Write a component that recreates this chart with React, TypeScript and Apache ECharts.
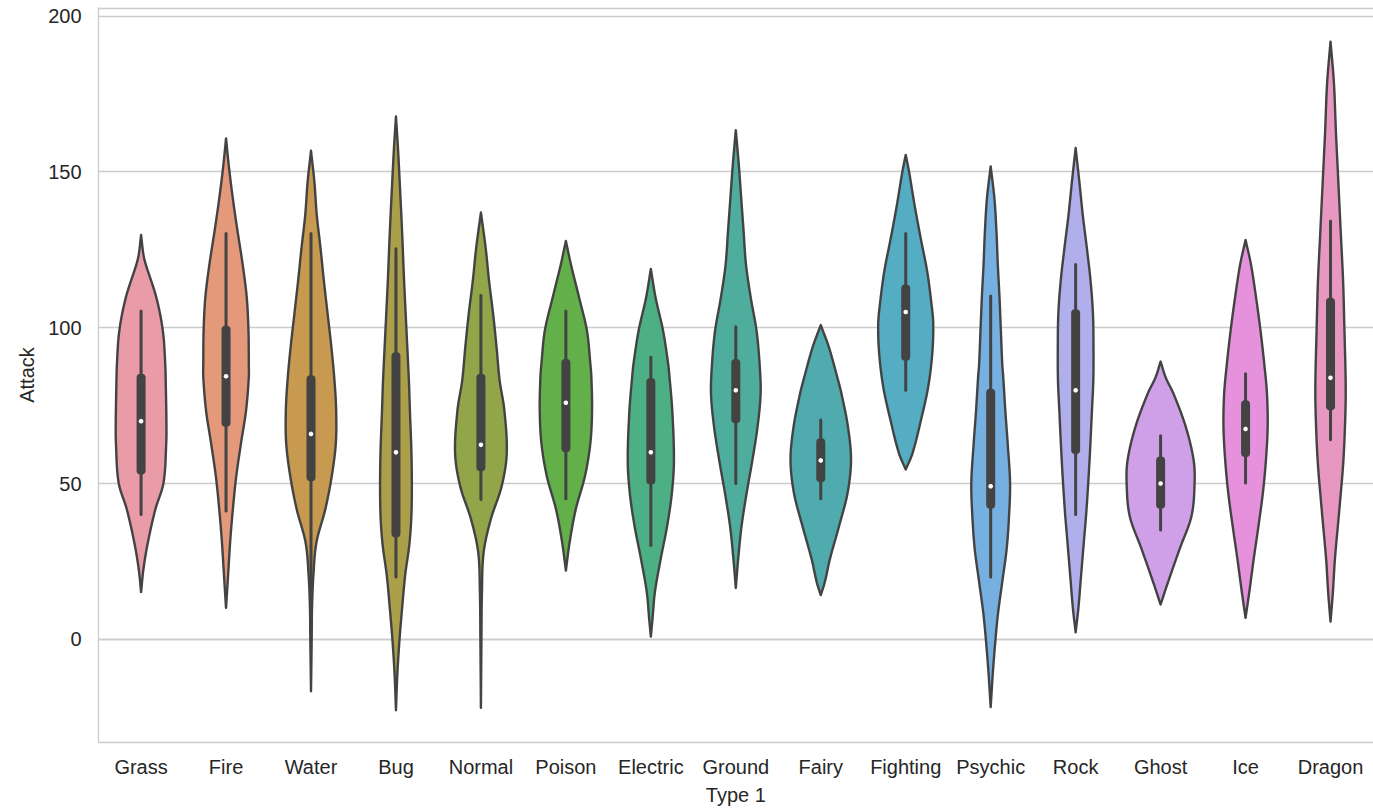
import React, { useEffect, useRef } from "react";
import * as echarts from "echarts";

// Pokémon primary types, in plotting order
const types = [
  "Grass", "Fire", "Water", "Bug", "Normal", "Poison", "Electric", "Ground",
  "Fairy", "Fighting", "Psychic", "Rock", "Ghost", "Ice", "Dragon",
];

// Violin outlines: [Attack, half-width relative to the widest violin]
const grassDensity = [[15.2, 0], [22.6, 0.07], [31.1, 0.2], [41.7, 0.42], [50.2, 0.66], [62.9, 0.74], [70, 0.745], [80, 0.73], [88.4, 0.71], [99, 0.64], [109.6, 0.45], [120.2, 0.14], [123.3, 0.07], [129.7, 0]];
const fireDensity = [[10.1, 0], [20.5, 0.06], [31.1, 0.12], [41.7, 0.2], [52.3, 0.3], [62.9, 0.44], [73.5, 0.59], [84.1, 0.67], [88.4, 0.67], [99, 0.66], [109.6, 0.61], [120.2, 0.49], [130.8, 0.34], [141.4, 0.2], [152, 0.08], [160.7, 0]];
const waterDensity = [[-16.6, 0], [0, 0.02], [9.9, 0.03], [20.5, 0.07], [31.1, 0.16], [41.7, 0.42], [52.3, 0.61], [62.9, 0.73], [73.5, 0.74], [83.1, 0.69], [93.7, 0.6], [104.3, 0.49], [114.9, 0.38], [125.5, 0.28], [136.1, 0.17], [146.7, 0.1], [156.7, 0]];
const bugDensity = [[-22.7, 0], [-11.3, 0.04], [-0.7, 0.1], [9.9, 0.18], [20.5, 0.27], [31.1, 0.4], [41.7, 0.46], [57.6, 0.46], [73.5, 0.41], [83.1, 0.38], [99, 0.31], [114.9, 0.24], [130.8, 0.18], [146.7, 0.11], [157.3, 0.06], [167.7, 0]];
const normalDensity = [[-21.9, 0], [-0.7, 0.015], [15.2, 0.03], [27.9, 0.08], [38.5, 0.29], [49.1, 0.61], [59.7, 0.76], [73.5, 0.69], [83.1, 0.55], [93.7, 0.46], [104.3, 0.36], [114.9, 0.24], [125.5, 0.14], [136.9, 0]];
const poisonDensity = [[22.1, 0], [31.1, 0.11], [41.7, 0.29], [52.3, 0.56], [62.9, 0.72], [73.5, 0.77], [84.1, 0.75], [88.4, 0.72], [99, 0.62], [109.6, 0.39], [120.2, 0.15], [127.8, 0]];
const electricDensity = [[0.9, 0], [6.7, 0.05], [15.2, 0.12], [25.8, 0.29], [36.4, 0.48], [47, 0.62], [57.6, 0.68], [73.5, 0.63], [84.1, 0.55], [88.4, 0.51], [99, 0.36], [109.6, 0.14], [118.8, 0]];
const groundDensity = [[16.5, 0], [25.8, 0.07], [36.4, 0.17], [47, 0.32], [57.6, 0.49], [68.2, 0.64], [78.8, 0.73], [88.4, 0.7], [99, 0.61], [109.6, 0.44], [120.2, 0.3], [130.8, 0.23], [141.4, 0.16], [152, 0.09], [163.3, 0]];
const fairyDensity = [[14.2, 0], [18.4, 0.12], [25.8, 0.27], [36.4, 0.54], [47, 0.79], [57.6, 0.89], [68.2, 0.8], [78.8, 0.61], [83.1, 0.51], [93.7, 0.24], [100.8, 0]];
const fightingDensity = [[54.5, 0], [59.7, 0.2], [70.4, 0.45], [80.9, 0.66], [91.5, 0.78], [101.1, 0.81], [107.4, 0.76], [118.1, 0.63], [128.7, 0.44], [139.3, 0.26], [149.9, 0.1], [155.4, 0]];
const psychicDensity = [[-21.7, 0], [-11.3, 0.06], [-2.8, 0.12], [7.8, 0.21], [18.4, 0.34], [29, 0.47], [39.6, 0.54], [50.2, 0.57], [62.9, 0.5], [73.5, 0.43], [84.1, 0.37], [88.4, 0.34], [99, 0.3], [109.6, 0.26], [120.2, 0.21], [130.8, 0.17], [141.4, 0.11], [151.7, 0]];
const rockDensity = [[2.3, 0], [9.9, 0.08], [20.5, 0.16], [31.1, 0.24], [41.7, 0.32], [57.6, 0.41], [73.5, 0.48], [83.1, 0.52], [93.7, 0.525], [104.3, 0.51], [114.9, 0.44], [125.5, 0.33], [136.1, 0.21], [146.7, 0.11], [157.6, 0]];
const ghostDensity = [[11.2, 0], [18.4, 0.22], [29, 0.56], [39.6, 0.91], [50.2, 1.0], [57.6, 0.97], [68.2, 0.74], [78.8, 0.38], [84, 0.15], [89.1, 0]];
const iceDensity = [[6.9, 0], [15.2, 0.11], [25.8, 0.24], [36.4, 0.38], [47, 0.51], [57.6, 0.6], [68.2, 0.65], [78.8, 0.63], [88.4, 0.55], [99, 0.44], [109.6, 0.31], [120.2, 0.16], [128.1, 0]];
const dragonDensity = [[5.7, 0], [15.2, 0.07], [25.8, 0.13], [41.7, 0.26], [57.6, 0.38], [73.5, 0.44], [83.1, 0.445], [99, 0.41], [114.9, 0.37], [130.8, 0.3], [146.7, 0.23], [162.6, 0.16], [178.5, 0.1], [191.7, 0]];

const densities = [
  grassDensity, fireDensity, waterDensity, bugDensity, normalDensity, poisonDensity,
  electricDensity, groundDensity, fairyDensity, fightingDensity, psychicDensity,
  rockDensity, ghostDensity, iceDensity, dragonDensity,
];

// Inner box statistics per type
const whiskerLow = [40.1, 41.2, 10, 20, 44.9, 45.1, 30.1, 50, 45.1, 79.9, 20, 40.1, 35.1, 50.2, 64];
const quartile1 = [52.9, 68.2, 50.7, 32.7, 53.9, 60, 49.7, 69.3, 50.4, 89.4, 41.9, 59.5, 41.9, 58.5, 73.5];
const medians = [70, 84.4, 65.9, 60, 62.4, 75.9, 60, 79.9, 57.4, 105, 49.1, 79.9, 50, 67.5, 83.9];
const quartile3 = [85.2, 100.6, 84.7, 92.1, 85.2, 89.9, 83.8, 89.9, 64.5, 113.8, 80.4, 105.9, 58.7, 76.7, 109.6];
const whiskerHigh = [105.3, 130.2, 130.2, 125.3, 110.3, 105.3, 90.5, 100.3, 70.4, 130.2, 110.1, 120.2, 65.3, 85.2, 134.2];

const yTicks = [0, 50, 100, 150, 200];
const yMin = -32.9;
const yMax = 202.5;

// ---- HUSL palette helpers ----
const M = [
  [3.2406, -1.5372, -0.4986],
  [-0.9689, 1.8758, 0.0415],
  [0.0557, -0.204, 1.057],
];

function maxChroma(L: number, H: number) {
  const hrad = (H / 360) * 2 * Math.PI;
  const sinH = Math.sin(hrad);
  const cosH = Math.cos(hrad);
  const sub1 = Math.pow(L + 16, 3) / 1560896;
  const sub2 = sub1 > 0.0088564516 ? sub1 : L / 903.2962962;
  let result = Infinity;
  for (const [m1, m2, m3] of M) {
    const top = (0.99915 * m1 + 1.05122 * m2 + 1.1446 * m3) * sub2;
    const rbottom = 0.8633 * m3 - 0.17266 * m2;
    const lbottom = 0.12949 * m3 - 0.38848 * m1;
    const bottom = (rbottom * sinH + lbottom * cosH) * sub2;
    for (const t of [0, 1]) {
      const C = (L * (top - 1.05122 * t)) / (bottom + 0.17266 * sinH * t);
      if (C > 0 && C < result) result = C;
    }
  }
  return result;
}

function fromLinear(c: number) {
  return c <= 0.0031308 ? 12.92 * c : 1.055 * Math.pow(c, 1 / 2.4) - 0.055;
}

function huslToRgb(h: number, s: number, l: number): number[] {
  const C = (maxChroma(l, h) / 100) * s;
  const hrad = (h / 360) * 2 * Math.PI;
  const U = Math.cos(hrad) * C;
  const V = Math.sin(hrad) * C;
  const t = (l + 16) / 116;
  const varY = t * t * t > 0.008856 ? t * t * t : (116 * t - 16) / 903.3;
  const varU = U / (13 * l) + 0.19784;
  const varV = V / (13 * l) + 0.46834;
  const Y = varY;
  const X = -(9 * Y * varU) / ((varU - 4) * varV - varU * varV);
  const Z = (9 * Y - 15 * varV * Y - varV * X) / (3 * varV);
  return M.map((row) => Math.min(1, Math.max(0, fromLinear(row[0] * X + row[1] * Y + row[2] * Z))));
}

function rgbToHls(r: number, g: number, b: number) {
  const maxc = Math.max(r, g, b);
  const minc = Math.min(r, g, b);
  const l = (maxc + minc) / 2;
  if (maxc === minc) return [0, l, 0];
  const rangec = maxc - minc;
  const s = l <= 0.5 ? rangec / (maxc + minc) : rangec / (2 - maxc - minc);
  const rc = (maxc - r) / rangec;
  const gc = (maxc - g) / rangec;
  const bc = (maxc - b) / rangec;
  let h: number;
  if (r === maxc) h = bc - gc;
  else if (g === maxc) h = 2 + rc - bc;
  else h = 4 + gc - rc;
  h = (((h / 6) % 1) + 1) % 1;
  return [h, l, s];
}

function hueV(m1: number, m2: number, hue: number) {
  hue = ((hue % 1) + 1) % 1;
  if (hue < 1 / 6) return m1 + (m2 - m1) * hue * 6;
  if (hue < 0.5) return m2;
  if (hue < 2 / 3) return m1 + (m2 - m1) * (2 / 3 - hue) * 6;
  return m1;
}

function hlsToRgb(h: number, l: number, s: number) {
  if (s === 0) return [l, l, l];
  const m2 = l <= 0.5 ? l * (1 + s) : l + s - l * s;
  const m1 = 2 * l - m2;
  return [hueV(m1, m2, h + 1 / 3), hueV(m1, m2, h), hueV(m1, m2, h - 1 / 3)];
}

function toHex(rgb: number[]) {
  return "#" + rgb.map((c) => Math.round(c * 255).toString(16).padStart(2, "0")).join("");
}

// Evenly spaced HUSL hues, softened for the violin bodies
const fillColors = types.map((_, i) => {
  const hue = ((i / types.length + 0.01) % 1) * 359;
  const [r, g, b] = huslToRgb(hue, 0.9 * 99, 0.71 * 99);
  const [h, l, s] = rgbToHls(r, g, b);
  return toHex(hlsToRgb(h, l, s * 0.72));
});
const lineGray = "#434343";

// Smooth cubic (cardinal) curve through the outline points
function smoothCurve(xs: number[], ys: number[]) {
  const n = xs.length;
  const m: number[] = new Array(n).fill(0);
  m[0] = (ys[1] - ys[0]) / (xs[1] - xs[0]);
  m[n - 1] = (ys[n - 1] - ys[n - 2]) / (xs[n - 1] - xs[n - 2]);
  for (let i = 1; i < n - 1; i++) {
    m[i] = (ys[i + 1] - ys[i - 1]) / (xs[i + 1] - xs[i - 1]);
  }
  return (x: number) => {
    let i = 0;
    while (i < n - 2 && x > xs[i + 1]) i++;
    const h = xs[i + 1] - xs[i];
    const t = (x - xs[i]) / h;
    const t2 = t * t;
    const t3 = t2 * t;
    const v =
      (2 * t3 - 3 * t2 + 1) * ys[i] +
      (t3 - 2 * t2 + t) * h * m[i] +
      (-2 * t3 + 3 * t2) * ys[i + 1] +
      (t3 - t2) * h * m[i + 1];
    return Math.max(0, v);
  };
}

const FONT = "'Liberation Sans', Arial, sans-serif";
const TEXT = "#262626";
const GRID = "#cccccc";

export default function App() {
  const ref = useRef<HTMLDivElement>(null);

  useEffect(() => {
    if (!ref.current) return;
    const chart = echarts.init(ref.current, undefined, { renderer: "svg" });

    const renderItem = (params: any, api: any) => {
      const i = api.value(0);
      const prof = densities[i];
      const xs = prof.map((p) => p[0]);
      const ws = prof.map((p) => p[1]);
      const f = smoothCurve(xs, ws);
      const cx = api.coord([i, 0])[0];
      const band = api.size([1, 0])[0];
      const maxHalf = band * 0.4;
      const lo = xs[0];
      const hi = xs[xs.length - 1];
      const steps = Math.max(20, Math.ceil((hi - lo) / 0.3));
      const right: number[][] = [];
      for (let k = 0; k <= steps; k++) {
        const v = lo + ((hi - lo) * k) / steps;
        right.push([cx + f(v) * maxHalf, api.coord([i, v])[1]]);
      }
      const left = right.slice(1, -1).reverse().map(([x, y]) => [2 * cx - x, y]);
      const points = right.concat(left);

      const yLow = api.coord([i, whiskerLow[i]])[1];
      const yHigh = api.coord([i, whiskerHigh[i]])[1];
      const yQ1 = api.coord([i, quartile1[i]])[1];
      const yQ3 = api.coord([i, quartile3[i]])[1];
      const yMed = api.coord([i, medians[i]])[1];
      const boxW = 9;

      return {
        type: "group",
        children: [
          {
            type: "polygon",
            shape: { points },
            style: { fill: fillColors[i], stroke: lineGray, lineWidth: 2.4, lineJoin: "round" },
          },
          {
            type: "line",
            shape: { x1: cx, y1: yLow, x2: cx, y2: yHigh },
            style: { stroke: lineGray, lineWidth: 3, lineCap: "round" },
          },
          {
            type: "rect",
            shape: { x: cx - boxW / 2, y: yQ3, width: boxW, height: yQ1 - yQ3, r: 4 },
            style: { fill: lineGray },
          },
          {
            type: "circle",
            shape: { cx, cy: yMed, r: 2.3 },
            style: { fill: "#ffffff" },
          },
        ],
      };
    };

    chart.setOption({
      animation: false,
      grid: { left: 98.6, top: 8, width: 1277, height: 740.3, containLabel: false },
      xAxis: {
        type: "category",
        data: types,
        boundaryGap: true,
        axisLine: { show: true, lineStyle: { color: GRID, width: 1.3 } },
        axisTick: { show: false },
        axisLabel: { interval: 0, margin: 15, fontSize: 20, color: TEXT, fontFamily: FONT },
        splitLine: { show: false },
        name: "Type 1",
        nameLocation: "middle",
        nameGap: 43,
        nameTextStyle: { fontSize: 20, color: TEXT, fontFamily: FONT },
      },
      yAxis: {
        type: "value",
        min: yMin,
        max: yMax,
        splitNumber: 5,
        axisLine: { show: true, lineStyle: { color: GRID, width: 1.3 } },
        axisTick: { show: false },
        axisLabel: {
          margin: 17,
          fontSize: 20,
          color: TEXT,
          fontFamily: FONT,
          formatter: (v: number) => (yTicks.includes(Math.round(v * 1000) / 1000) ? String(Math.round(v)) : ""),
        },
        splitLine: { show: true, lineStyle: { color: GRID, width: 1.3 } },
        name: "Attack",
        nameLocation: "middle",
        nameGap: 62,
        nameRotate: 90,
        nameTextStyle: { fontSize: 20, color: TEXT, fontFamily: FONT },
      },
      series: [
        {
          type: "custom",
          renderItem,
          encode: { x: 0, y: 1 },
          data: types.map((_, i) => [i, medians[i]]),
          clip: false,
          z: 3,
        },
      ],
    });

    return () => chart.dispose();
  }, []);

  return (
    <div
      ref={ref}
      style={{ position: "fixed", left: 0, top: 0, width: 1373, height: 810, background: "#ffffff" }}
    />
  );
}
